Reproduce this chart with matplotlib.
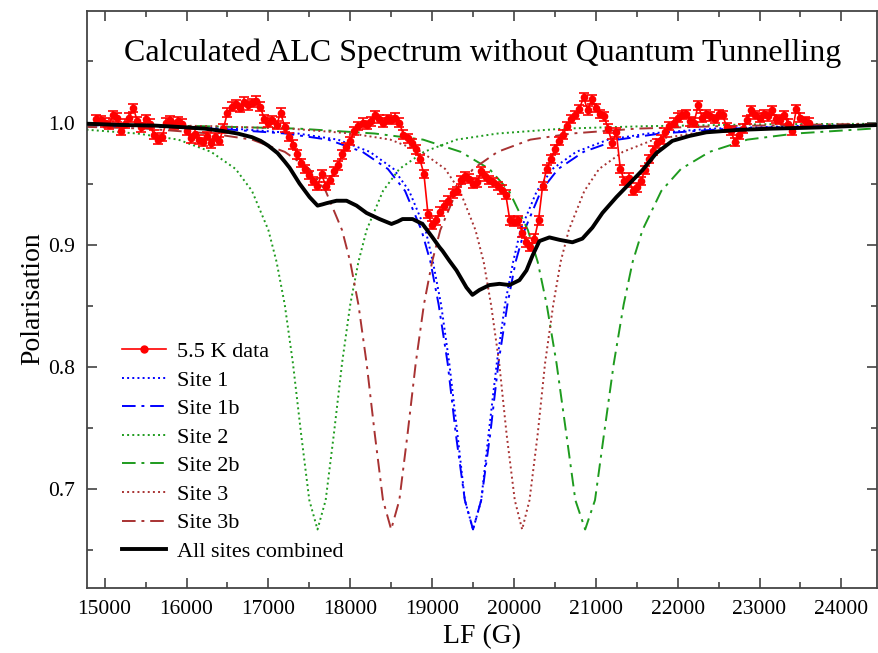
import matplotlib.pyplot as plt
from matplotlib.lines import Line2D
from matplotlib.ticker import MultipleLocator, FormatStrFormatter

plt.rcParams['font.family'] = ['Liberation Serif', 'DejaVu Serif']

# 5.5 K data, scan in 50 G steps
field = [14900, 14950, 15000, 15050, 15100, 15150, 15200, 15250, 15300, 15350,
         15400, 15450, 15500, 15550, 15600, 15650, 15700, 15750, 15800, 15850,
         15900, 15950, 16000, 16050, 16100, 16150, 16200, 16250, 16300, 16350,
         16400, 16450, 16500, 16550, 16600, 16650, 16700, 16750, 16800, 16850,
         16900, 16950, 17000, 17050, 17100, 17150, 17200, 17250, 17300, 17350,
         17400, 17450, 17500, 17550, 17600, 17650, 17700, 17750, 17800, 17850,
         17900, 17950, 18000, 18050, 18100, 18150, 18200, 18250, 18300, 18350,
         18400, 18450, 18500, 18550, 18600, 18650, 18700, 18750, 18800, 18850,
         18900, 18950, 19000, 19050, 19100, 19150, 19200, 19250, 19300, 19350,
         19400, 19450, 19500, 19550, 19600, 19650, 19700, 19750, 19800, 19850,
         19900, 19950, 20000, 20050, 20100, 20150, 20200, 20250, 20300, 20350,
         20400, 20450, 20500, 20550, 20600, 20650, 20700, 20750, 20800, 20850,
         20900, 20950, 21000, 21050, 21100, 21150, 21200, 21250, 21300, 21350,
         21400, 21450, 21500, 21550, 21600, 21650, 21700, 21750, 21800, 21850,
         21900, 21950, 22000, 22050, 22100, 22150, 22200, 22250, 22300, 22350,
         22400, 22450, 22500, 22550, 22600, 22650, 22700, 22750, 22800, 22850,
         22900, 22950, 23000, 23050, 23100, 23150, 23200, 23250, 23300, 23350,
         23400, 23450, 23500, 23550, 23600]
polar = [1.003, 1.002, 1.000, 0.998, 1.006, 1.004, 0.993, 0.999, 1.004, 1.012,
         1.001, 0.996, 1.003, 0.999, 0.990, 0.986, 0.988, 1.000, 1.002, 0.998,
         1.001, 0.999, 0.993, 0.987, 0.991, 0.986, 0.984, 0.989, 0.983, 0.988,
         0.985, 0.995, 1.008, 1.013, 1.015, 1.012, 1.017, 1.014, 1.016, 1.018,
         1.013, 1.003, 1.000, 1.002, 0.998, 1.008, 0.996, 0.988, 0.982, 0.974,
         0.967, 0.962, 0.957, 0.952, 0.948, 0.958, 0.948, 0.953, 0.960, 0.965,
         0.974, 0.980, 0.985, 0.993, 0.997, 1.000, 0.998, 1.001, 1.006, 1.003,
         1.000, 1.003, 1.002, 1.004, 1.000, 0.990, 0.987, 0.983, 0.978, 0.970,
         0.958, 0.925, 0.916, 0.920, 0.927, 0.932, 0.936, 0.942, 0.944, 0.953,
         0.956, 0.954, 0.950, 0.951, 0.960, 0.956, 0.953, 0.951, 0.948, 0.945,
         0.941, 0.920, 0.919, 0.920, 0.910, 0.902, 0.898, 0.905, 0.920, 0.948,
         0.962, 0.970, 0.978, 0.985, 0.990, 0.997, 1.003, 1.006, 1.011, 1.021,
         1.010, 1.019, 1.012, 1.007, 1.005, 0.995, 0.983, 0.992, 0.962, 0.952,
         0.955, 0.944, 0.947, 0.952, 0.961, 0.970, 0.977, 0.983, 0.986, 0.992,
         0.997, 1.000, 1.004, 1.006, 1.007, 1.001, 1.000, 1.014, 1.004, 1.007,
         1.005, 1.003, 1.007, 1.006, 0.996, 0.993, 0.984, 0.990, 0.995, 1.002,
         1.010, 1.006, 1.004, 1.007, 1.005, 1.010, 1.003, 1.002, 1.006, 0.999,
         0.993, 1.011, 1.004, 1.001, 1.000]
polar_err = 0.0035

# calculated site curves: polarisation levels and the fields where each site reaches them
dip_levels = [0.9995, 0.9992, 0.9986, 0.997, 0.995, 0.991, 0.986, 0.976, 0.962, 0.944,
              0.912, 0.886, 0.851, 0.803, 0.745, 0.691, 0.667, 0.691, 0.745, 0.803,
              0.851, 0.886, 0.912, 0.944, 0.962, 0.976, 0.986, 0.991, 0.995, 0.997,
              0.9986, 0.9992, 0.9995]
site1_x = [10260, 12210, 14150, 15610, 16580, 17360, 17850, 18240, 18530, 18720,
           18920, 19010, 19110, 19210, 19310, 19400, 19500, 19600, 19690, 19790,
           19890, 19990, 20080, 20280, 20470, 20760, 21150, 21640, 22420, 23390,
           24850, 26790, 28740]
site1b_x = [9600, 11690, 13770, 15330, 16370, 17210, 17730, 18150, 18460, 18670,
            18870, 18980, 19080, 19190, 19290, 19400, 19500, 19600, 19710, 19810,
            19920, 20020, 20130, 20330, 20540, 20850, 21270, 21790, 22630, 23670,
            25230, 27310, 29400]
site2_x = [8100, 10100, 12100, 13600, 14600, 15400, 15900, 16300, 16600, 16800,
           17000, 17100, 17200, 17300, 17400, 17500, 17600, 17700, 17800, 17900,
           18000, 18100, 18200, 18400, 18600, 18900, 19300, 19800, 20600, 21600,
           23100, 25100, 27100]
site2b_x = [9790, 12120, 14450, 16200, 17370, 18300, 18890, 19350, 19700, 19940,
            20170, 20290, 20400, 20520, 20640, 20750, 20870, 20990, 21100, 21220,
            21340, 21450, 21570, 21800, 22040, 22390, 22850, 23440, 24370, 25540,
            27290, 29620, 31950]
site3_x = [11130, 13020, 14910, 16320, 17270, 18020, 18490, 18870, 19160, 19340,
           19530, 19630, 19720, 19820, 19910, 20010, 20100, 20190, 20290, 20380,
           20480, 20570, 20670, 20860, 21040, 21330, 21710, 22180, 22930, 23880,
           25290, 27180, 29070]
site3b_x = [9000, 11000, 13000, 14500, 15500, 16300, 16800, 17200, 17500, 17700,
            17900, 18000, 18100, 18200, 18300, 18400, 18500, 18600, 18700, 18800,
            18900, 19000, 19100, 19300, 19500, 19800, 20200, 20700, 21500, 22500,
            24000, 26000, 28000]

# all sites combined
combined_x = [14790, 15200, 15610, 16000, 16221, 16450, 16624, 16800, 16905, 17000,
              17112, 17200, 17259, 17381, 17503, 17601, 17660, 17711, 17833, 17955,
              18077, 18199, 18358, 18504, 18580, 18639, 18761, 18883, 19005, 19090,
              19127, 19210, 19298, 19420, 19493, 19579, 19701, 19823, 19945, 20067,
              20153, 20226, 20311, 20433, 20556, 20714, 20836, 20958, 21081, 21252,
              21411, 21569, 21740, 21935, 22143, 22350, 22753, 23156, 23730, 24440]
combined_y = [0.999, 0.998, 0.9975, 0.996, 0.995, 0.993, 0.991, 0.988, 0.985, 0.981,
              0.975, 0.968, 0.963, 0.950, 0.939, 0.932, 0.933, 0.934, 0.936, 0.936,
              0.932, 0.926, 0.921, 0.917, 0.919, 0.921, 0.921, 0.917, 0.906, 0.898,
              0.895, 0.887, 0.879, 0.865, 0.859, 0.863, 0.867, 0.868, 0.867, 0.871,
              0.879, 0.891, 0.903, 0.906, 0.904, 0.902, 0.905, 0.914, 0.926, 0.939,
              0.950, 0.961, 0.975, 0.985, 0.989, 0.992, 0.994, 0.995, 0.996, 0.998]

blue = '#0000ff'
green = '#1e9b1e'
brown = '#a83232'
dashdot = (0, (7, 3, 1.5, 3))

fig = plt.figure(figsize=(8.79, 6.53), dpi=100)
ax = fig.add_axes([0.0995, 0.1003, 0.8987, 0.8833])

ax.errorbar(field, polar, yerr=polar_err, color='red', marker='o', ms=4.5,
            lw=1.2, elinewidth=1.2, capsize=3.5, capthick=1.2, zorder=5)
ax.plot(site1_x, dip_levels, ':', color=blue, lw=1.4)
ax.plot(site1b_x, dip_levels, linestyle=dashdot, color=blue, lw=1.4)
ax.plot(site2_x, dip_levels, ':', color=green, lw=1.4)
ax.plot(site2b_x, dip_levels, linestyle=dashdot, color=green, lw=1.4)
ax.plot(site3_x, dip_levels, ':', color=brown, lw=1.4)
ax.plot(site3b_x, dip_levels, linestyle=dashdot, color=brown, lw=1.4)
ax.plot(combined_x, combined_y, color='black', lw=2.8, zorder=6)

handles = [
    Line2D([], [], color='red', marker='o', ms=5, lw=1.2),
    Line2D([], [], color=blue, ls=':', lw=1.4),
    Line2D([], [], color=blue, ls=dashdot, lw=1.4),
    Line2D([], [], color=green, ls=':', lw=1.4),
    Line2D([], [], color=green, ls=dashdot, lw=1.4),
    Line2D([], [], color=brown, ls=':', lw=1.4),
    Line2D([], [], color=brown, ls=dashdot, lw=1.4),
    Line2D([], [], color='black', lw=2.8),
]
labels = ['5.5 K data', 'Site 1', 'Site 1b', 'Site 2', 'Site 2b', 'Site 3',
          'Site 3b', 'All sites combined']
ax.legend(handles, labels, loc='upper left', bbox_to_anchor=(0.032, 0.442),
          frameon=False, fontsize=16, handlelength=2.0, handletextpad=0.5,
          labelspacing=0.36, borderaxespad=0)

ax.set_xlim(14790, 24440)
ax.set_ylim(0.6195, 1.0915)
ax.xaxis.set_major_locator(MultipleLocator(1000))
ax.xaxis.set_minor_locator(MultipleLocator(500))
ax.yaxis.set_major_locator(MultipleLocator(0.1))
ax.yaxis.set_minor_locator(MultipleLocator(0.05))
ax.yaxis.set_major_formatter(FormatStrFormatter('%.1f'))
ax.tick_params(which='both', direction='in', top=True, right=True,
               width=1.1, color='#333333', labelsize=15.5)
ax.tick_params(which='major', length=7, pad=9)
ax.tick_params(which='minor', length=4)
for s in ax.spines.values():
    s.set_linewidth(1.3)
    s.set_color('#444444')

ax.set_xlabel('LF (G)', fontsize=20, labelpad=4)
ax.set_ylabel('Polarisation', fontsize=20, labelpad=2)
ax.text(0.5, 0.927, 'Calculated ALC Spectrum without Quantum Tunnelling',
        transform=ax.transAxes, ha='center', va='center', fontsize=23)

fig.savefig('out.png', dpi=100)
